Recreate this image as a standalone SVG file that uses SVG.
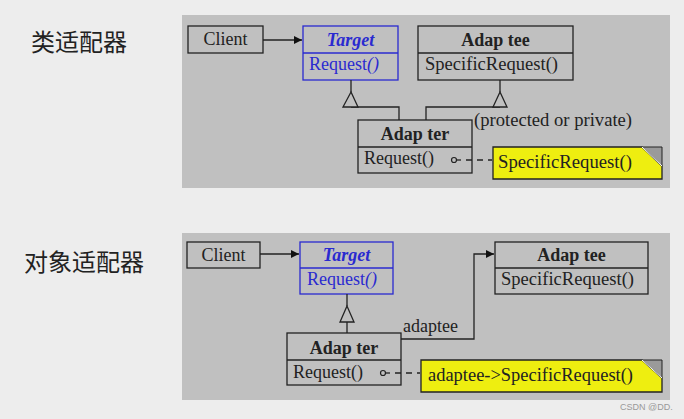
<svg xmlns="http://www.w3.org/2000/svg" width="684" height="419" viewBox="0 0 684 419">
<style>
.panel{fill:#c0c0c0}
.box{fill:#c0c0c0;stroke:#222;stroke-width:1.3}
.tbox{fill:#c0c0c0;stroke:#2a2ad0;stroke-width:1.3}
.t{font-size:18px;fill:#222}
.b{font-weight:bold}
.blue{fill:#2a2ad0}
.title{font-size:24px;fill:#222}
.ln{fill:none;stroke:#222;stroke-width:1.3}
.dash{fill:none;stroke:#222;stroke-width:1.3;stroke-dasharray:6,5}
.gen{fill:#c0c0c0;stroke:#222;stroke-width:1.3}
.note{fill:#eeee10;stroke:#222;stroke-width:1.3}
.dot{fill:#c0c0c0;stroke:#222;stroke-width:1.2}
</style>
<defs>
<marker id="arr" markerWidth="10" markerHeight="10" refX="8" refY="4" orient="auto" markerUnits="userSpaceOnUse">
<path d="M0,0 L8,4 L0,8 Z" fill="#111"/>
</marker>
</defs>
<rect width="684" height="419" fill="#ededed"/>
<g font-family="'Noto Sans CJK SC', sans-serif">
<text class="title" x="31" y="51">类适配器</text>
<text class="title" x="24" y="271">对象适配器</text>
</g>
<rect class="panel" x="182" y="15" width="488" height="173"/>
<rect class="panel" x="182" y="233" width="488" height="167"/>

<g font-family="'Liberation Serif', 'Times New Roman', serif">
<g id="client1">
<rect class="box" x="188" y="26" width="75" height="27"/>
<text class="t" x="225.5" y="45" text-anchor="middle">Client</text>
</g>
<g id="target1">
<rect class="tbox" x="303" y="26" width="95" height="54"/>
<line x1="303" y1="53" x2="398" y2="53" stroke="#2a2ad0" stroke-width="1.3"/>
<text class="t b blue" x="350.5" y="46" text-anchor="middle" font-style="italic">Target</text>
<text class="t blue" x="309" y="70">Request<tspan font-style="italic">()</tspan></text>
</g>
<g id="adaptee1">
<rect class="box" x="418" y="26" width="155" height="54"/>
<line x1="418" y1="53" x2="573" y2="53" stroke="#222" stroke-width="1.3"/>
<text class="t b" x="495.5" y="46" text-anchor="middle">Adap tee</text>
<text class="t" x="425" y="70" textLength="133" lengthAdjust="spacingAndGlyphs">SpecificRequest()</text>
</g>
<g id="adapter1">
<rect class="box" x="358" y="120" width="114" height="53"/>
<line x1="358" y1="147" x2="472" y2="147" stroke="#222" stroke-width="1.3"/>
<text class="t b" x="415" y="140" text-anchor="middle">Adap ter</text>
<text class="t" x="364" y="164">Request()</text>
<text class="t" x="474" y="126" textLength="158" lengthAdjust="spacingAndGlyphs">(protected or private)</text>
</g>
<g id="note1">
<path class="note" d="M493,147 H642 L662,166 V179 H493 Z"/>
<path d="M642,147 H662 V166 Z" fill="#9a9a9a" stroke="#222" stroke-width="1"/>
<path d="M642,147 L662,166" stroke="#fff" stroke-width="1"/>
<text class="t" x="498" y="168" textLength="134" lengthAdjust="spacingAndGlyphs">SpecificRequest()</text>
</g>

<g id="client2">
<rect class="box" x="187" y="242" width="73" height="26"/>
<text class="t" x="223.5" y="261" text-anchor="middle">Client</text>
</g>
<g id="target2">
<rect class="tbox" x="300" y="242" width="93" height="52"/>
<line x1="300" y1="268" x2="393" y2="268" stroke="#2a2ad0" stroke-width="1.3"/>
<text class="t b blue" x="346.5" y="261" text-anchor="middle" font-style="italic">Target</text>
<text class="t blue" x="307" y="285">Request<tspan font-style="italic">()</tspan></text>
</g>
<g id="adaptee2">
<rect class="box" x="495" y="242" width="153" height="52"/>
<line x1="495" y1="268" x2="648" y2="268" stroke="#222" stroke-width="1.3"/>
<text class="t b" x="571.5" y="261" text-anchor="middle">Adap tee</text>
<text class="t" x="501" y="285" textLength="133" lengthAdjust="spacingAndGlyphs">SpecificRequest()</text>
</g>
<g id="adapter2">
<rect class="box" x="287" y="333" width="114" height="52"/>
<line x1="287" y1="360" x2="401" y2="360" stroke="#222" stroke-width="1.3"/>
<text class="t b" x="344" y="354" text-anchor="middle">Adap ter</text>
<text class="t" x="293" y="378">Request()</text>
</g>
<g id="note2">
<path class="note" d="M421,360 H642 L662,378 V392 H421 Z"/>
<path d="M642,360 H662 V378 Z" fill="#9a9a9a" stroke="#222" stroke-width="1"/>
<path d="M642,360 L662,378" stroke="#fff" stroke-width="1"/>
<text class="t" x="428" y="381" textLength="205" lengthAdjust="spacingAndGlyphs">adaptee-&gt;SpecificRequest()</text>
</g>

<g id="connectors">
<line class="ln" x1="263" y1="40" x2="302" y2="40" marker-end="url(#arr)"/>
<path class="ln" d="M351,80 V92 M351,107 H399 V120"/>
<path class="gen" d="M351,92 L343,107 L358,107 Z"/>
<path class="ln" d="M500,80 V92 M500,107 H426 V120"/>
<path class="gen" d="M500,92 L493,107 L507,107 Z"/>
<line class="ln" x1="456" y1="160" x2="461" y2="160"/>
<line class="dash" x1="466" y1="160" x2="492" y2="160"/>
<circle class="dot" cx="454" cy="160" r="2.5"/>
<line class="ln" x1="260" y1="254" x2="299" y2="254" marker-end="url(#arr)"/>
<path class="ln" d="M347,294 V306 M347,322 V333"/>
<path class="gen" d="M347,306 L340,322 L354,322 Z"/>
<path class="ln" d="M401,339 H474 V254 H494" marker-end="url(#arr)"/>
<text class="t" x="403" y="332">adaptee</text>
<line class="ln" x1="385" y1="373" x2="390" y2="373"/>
<line class="dash" x1="395" y1="373" x2="420" y2="373"/>
<circle class="dot" cx="383" cy="373" r="2.5"/>
</g>
</g>
<text x="620" y="410" font-family="'Liberation Sans', sans-serif" font-size="9" fill="#999">CSDN @DD.</text>
</svg>
